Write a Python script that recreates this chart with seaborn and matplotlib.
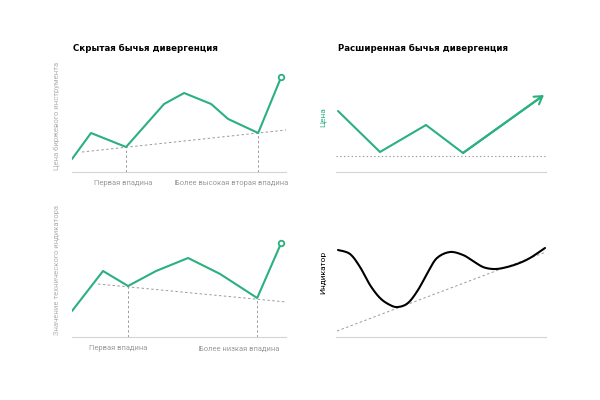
import matplotlib.pyplot as plt
import seaborn as sns
import numpy as np
import pandas as pd

sns.set_theme(style="white")
plt.rcParams["font.family"] = ["Roboto", "DejaVu Sans"]

GREEN = "#2bb07f"
GRAY = "#9a9a9a"
BASE = "#d4d4d4"

# hidden bullish divergence - price
price_x = [0, 19, 54, 92, 112, 139, 156, 186, 209]
price_y = [13, 39, 25, 68, 79, 68, 53, 39, 95]
price_trend_x = [10, 214]
price_trend_y = [20, 42]
price_troughs_x = [54, 186]
price_troughs_y = [25, 39]
price_labels = ["Первая впадина", "Более высокая вторая впадина"]
price_label_x = [51, 159]

# hidden bullish divergence - indicator
ind_x = [0, 31, 56, 84, 116, 148, 185, 209]
ind_y = [26, 66, 51, 66, 79, 63, 39, 94]
ind_trend_x = [26, 214]
ind_trend_y = [53, 35]
ind_troughs_x = [56, 185]
ind_troughs_y = [51, 39]
ind_labels = ["Первая впадина", "Более низкая впадина"]
ind_label_x = [46, 167]

# extended bullish divergence
ext_x = [2, 44, 90, 127, 208]
ext_y = [61, 20, 47, 19, 77]
ext_level = 16
osc_x = [2, 14, 24, 34, 44, 54, 62, 72, 82, 92, 101, 114, 127, 137, 147,
         157, 167, 181, 194, 209]
osc_y = [87, 83, 70, 52, 39, 32, 30, 34, 47, 65, 79, 85, 82, 76, 70,
         68, 69, 73, 79, 89]
osc_trend_x = [1, 210]
osc_trend_y = [6, 85]


def smooth(xs, ys, n=10):
    # Catmull-Rom rendering through the read points
    p = np.column_stack([xs, ys]).astype(float)
    p = np.vstack([p[0], p, p[-1]])
    out = []
    t = np.linspace(0, 1, n, endpoint=False)[:, None]
    for i in range(1, len(p) - 2):
        p0, p1, p2, p3 = p[i - 1], p[i], p[i + 1], p[i + 2]
        out.append(0.5 * (2 * p1 + (-p0 + p2) * t
                          + (2 * p0 - 5 * p1 + 4 * p2 - p3) * t ** 2
                          + (-p0 + 3 * p1 - 3 * p2 + p3) * t ** 3))
    out.append(p[-2][None, :])
    out = np.vstack(out)
    return pd.DataFrame({"x": out[:, 0], "y": out[:, 1]})


fig = plt.figure(figsize=(6, 4), dpi=100)
ax1 = fig.add_axes([0.12, 0.57, 0.357, 0.28])
ax2 = fig.add_axes([0.12, 0.1575, 0.357, 0.28])
ax3 = fig.add_axes([0.56, 0.57, 0.35, 0.28])
ax4 = fig.add_axes([0.56, 0.1575, 0.35, 0.28])


def style_axis(ax, xmax):
    ax.set_xlim(0, xmax)
    ax.set_ylim(0, 112)
    ax.set_xticks([])
    ax.set_yticks([])
    ax.set_xlabel("")
    ax.set_ylabel("")
    for s in ["top", "right", "left"]:
        ax.spines[s].set_visible(False)
    ax.spines["bottom"].set_color(BASE)
    ax.spines["bottom"].set_linewidth(0.8)
    ax.patch.set_alpha(0)


def hidden_panel(ax, x, y, tx, ty, trx, tr_y, labels, lab_x, ylabel):
    sns.lineplot(x=x, y=y, color=GREEN, lw=1.5, ax=ax, zorder=3)
    ax.plot(x[-1], y[-1], "o", ms=4, mfc="white", mec=GREEN, mew=1.3, zorder=4)
    ax.plot(tx, ty, color=GRAY, lw=0.7, ls=(0, (2.5, 2.5)), zorder=2)
    ax.vlines(trx, 0, tr_y, color=GRAY, lw=0.7, ls=(0, (2.5, 2.5)), zorder=2)
    tr = ax.get_xaxis_transform()
    for lx, lab in zip(lab_x, labels):
        ax.text(lx, -0.107, lab, transform=tr, ha="center", va="center",
                fontsize=5.4, color=GRAY)
    ax.text(-0.07, 0.02, ylabel, transform=ax.transAxes, rotation=90,
            ha="center", va="bottom", fontsize=5.5, color="#b0b0b0")
    style_axis(ax, 214)


hidden_panel(ax1, price_x, price_y, price_trend_x, price_trend_y,
             price_troughs_x, price_troughs_y, price_labels, price_label_x,
             "Цена биржевого инструмента")
ax1.text(0.005, 1.107, "Скрытая бычья дивергенция", transform=ax1.transAxes,
         ha="left", va="center", fontsize=6.2, fontweight="bold", color="black",
         family="DejaVu Sans")

hidden_panel(ax2, ind_x, ind_y, ind_trend_x, ind_trend_y,
             ind_troughs_x, ind_troughs_y, ind_labels, ind_label_x,
             "Значение технического индикатора")

# extended divergence: price
sns.lineplot(x=ext_x[:-1] + [ext_x[-1] - 2], y=ext_y[:-1] + [ext_y[-1] - 1.4],
             color=GREEN, lw=1.5, ax=ax3, zorder=3)
ax3.annotate("", xy=(ext_x[-1], ext_y[-1]), xytext=(ext_x[-2], ext_y[-2]),
             arrowprops=dict(arrowstyle="->,head_length=0.45,head_width=0.28",
                             color=GREEN, lw=1.5, shrinkA=0, shrinkB=0))
ax3.axhline(ext_level, color=GRAY, lw=0.8, ls=(0, (1.2, 2.2)), zorder=2)
ax3.text(-0.062, 55, "Цена", transform=ax3.get_yaxis_transform(), rotation=90,
         ha="center", va="center", fontsize=6, color=GREEN)
ax3.text(0.01, 1.107, "Расширенная бычья дивергенция", transform=ax3.transAxes,
         ha="left", va="center", fontsize=6.2, fontweight="bold", color="black",
         family="DejaVu Sans")
style_axis(ax3, 210)

# extended divergence: indicator
sns.lineplot(data=smooth(osc_x, osc_y), x="x", y="y", color="black", lw=1.5,
             ax=ax4, zorder=3, sort=False)
ax4.plot(osc_trend_x, osc_trend_y, color=GRAY, lw=0.7, ls=(0, (2.5, 2.5)), zorder=2)
ax4.text(-0.062, 65, "Индикатор", transform=ax4.get_yaxis_transform(), rotation=90,
         ha="center", va="center", fontsize=6, color="black")
style_axis(ax4, 210)

fig.savefig("out.png", dpi=100)
